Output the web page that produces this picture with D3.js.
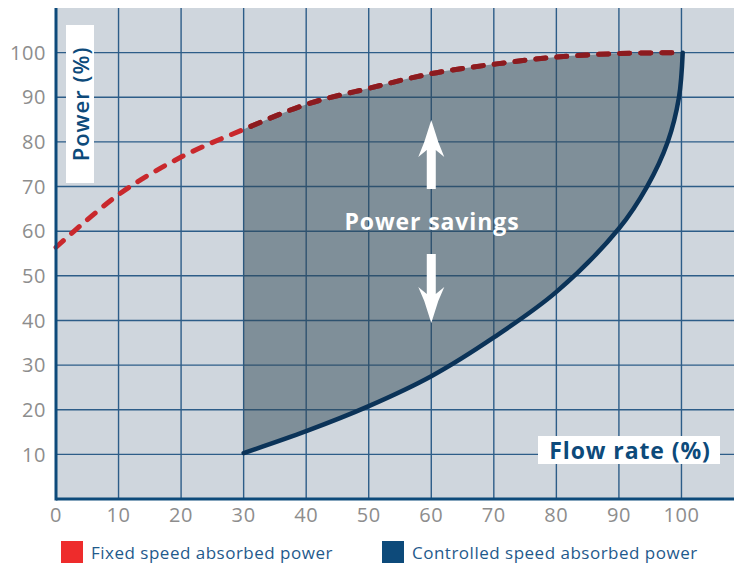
<!DOCTYPE html>
<html><head><meta charset="utf-8">
<script src="https://cdn.jsdelivr.net/npm/d3@7"></script>
<style>
html,body{margin:0;padding:0;background:#fff;}
svg{display:block;}
</style></head>
<body>
<script>
// ---- data ----
const flowTicks = [0,10,20,30,40,50,60,70,80,90,100];
const powerTicks = [10,20,30,40,50,60,70,80,90,100];
const fixedFlow  = [0,10,20,30,40,50,60,70,80,90,100];
const fixedPower = [56.4,68.2,76.6,82.8,88.4,92.0,95.3,97.4,99.0,99.8,100];
const ctrlFlow   = [30,40,50,60,70,80,90,94.5,97.8,99.6,100.2];
const ctrlPower  = [10.3,15.2,20.8,27.5,36.2,46.4,60.6,70,80,90,100];
const legendLabels = ["Fixed speed absorbed power","Controlled speed absorbed power"];
const legendColors = ["#ee2c2c","#0d4a7a"];
const xTitle = "Flow rate (%)";
const yTitle = "Power (%)";
const annotation = "Power savings";

(function(){
const W = 734, H = 564;
const svg = d3.select("body").append("svg").attr("width",W).attr("height",H);

const pL = 56, pR = 734, pT = 8, pB = 499;
const x = d3.scaleLinear().domain([0,108.4]).range([pL,pR]);
const y = d3.scaleLinear().domain([0,110]).range([pB,pT]);

// background
svg.append("rect").attr("x",pL).attr("y",pT).attr("width",pR-pL).attr("height",pB-pT).attr("fill","#cfd6dd");

// grid
const grid = svg.append("g");
grid.selectAll("line.v").data(flowTicks.filter(d=>d>0)).join("line")
  .attr("x1",d=>x(d)).attr("x2",d=>x(d)).attr("y1",pT).attr("y2",pB)
  .attr("stroke","#2d5d88").attr("stroke-width",1.4);
grid.selectAll("line.h").data(powerTicks).join("line")
  .attr("y1",d=>y(d)).attr("y2",d=>y(d)).attr("x1",pL).attr("x2",pR)
  .attr("stroke","#2d5d88").attr("stroke-width",1.4);

const fixedPts = fixedFlow.map((f,i)=>[f,fixedPower[i]]);
const ctrlPts = ctrlFlow.map((f,i)=>[f,ctrlPower[i]]);
const line = d3.line().x(d=>x(d[0])).y(d=>y(d[1])).curve(d3.curveCatmullRom.alpha(0.5));

svg.append("clipPath").attr("id","clipR").append("rect")
  .attr("x",x(30)).attr("y",0).attr("width",W).attr("height",H);

// fixed speed dashed line (full)
svg.append("path").attr("d",line(fixedPts)).attr("fill","none")
  .attr("stroke","#c9282c").attr("stroke-width",5).attr("stroke-linecap","round")
  .attr("stroke-dasharray","10 11");

// shaded savings area
const fixedSeg = fixedPts.filter(d=>d[0]>=30);
const ctrlRev = ctrlPts.slice().reverse();
const areaD = line(fixedSeg) + "L" + line(ctrlRev).slice(1) + "Z";
svg.append("path").attr("d",areaD).attr("fill","#2f4856").attr("fill-opacity",0.5);

// dashed line over the shaded part (darker)
svg.append("path").attr("d",line(fixedPts)).attr("fill","none")
  .attr("stroke","#8c1b1f").attr("stroke-width",5).attr("stroke-linecap","round")
  .attr("stroke-dasharray","10 11")
  .attr("clip-path","url(#clipR)");

// controlled line
svg.append("path").attr("d",line(ctrlPts)).attr("fill","none")
  .attr("stroke","#0b3358").attr("stroke-width",4.5).attr("stroke-linecap","round");

// axes lines
svg.append("line").attr("x1",pL).attr("x2",pL).attr("y1",pT).attr("y2",pB+1.5)
  .attr("stroke","#0d4a7a").attr("stroke-width",3);
svg.append("line").attr("x1",pL).attr("x2",pR).attr("y1",pB).attr("y2",pB)
  .attr("stroke","#0d4a7a").attr("stroke-width",3);

// tick labels
const tickFont = "'Open Sans', sans-serif";
svg.append("g").selectAll("text").data(powerTicks).join("text")
  .attr("x",46).attr("y",d=>y(d)).attr("dy","0.36em").attr("text-anchor","end")
  .attr("font-family",tickFont).attr("font-size",20).attr("letter-spacing",0.6).attr("fill","#8d8d8d").text(d=>d);
svg.append("g").selectAll("text").data(flowTicks).join("text")
  .attr("x",d=>x(d)).attr("y",522).attr("text-anchor","middle")
  .attr("font-family",tickFont).attr("font-size",20).attr("letter-spacing",0.6).attr("fill","#8d8d8d").text(d=>d);

// y title box
svg.append("rect").attr("x",66).attr("y",25).attr("width",28).attr("height",158).attr("fill","#fff");
svg.append("text").attr("transform","translate(88.5,104) rotate(-90)").attr("text-anchor","middle")
  .attr("font-family",tickFont).attr("font-weight",600).attr("font-size",22).attr("letter-spacing",1).attr("fill","#0d4a7a").text(yTitle);

// x title box
svg.append("rect").attr("x",538).attr("y",436).attr("width",182).attr("height",28).attr("fill","#fff");
svg.append("text").attr("x",630).attr("y",459).attr("text-anchor","middle")
  .attr("font-family",tickFont).attr("font-weight",700).attr("font-size",23).attr("letter-spacing",0.9).attr("fill","#0d4a7a").text(xTitle);

// annotation
svg.append("text").attr("x",432).attr("y",230).attr("text-anchor","middle")
  .attr("font-family",tickFont).attr("font-weight",700).attr("font-size",23).attr("letter-spacing",0.9).attr("fill","#fff").text(annotation);
const ax = x(60);
svg.append("path").attr("fill","#fff").attr("d",
  `M${ax},120 L${ax+7},142 L${ax+13},157 L${ax+4.5},150 L${ax+4.5},189 L${ax-4.5},189 L${ax-4.5},150 L${ax-13},157 L${ax-7},142 Z`);
svg.append("path").attr("fill","#fff").attr("d",
  `M${ax},323 L${ax+7},301 L${ax+13},287 L${ax+4.5},294 L${ax+4.5},254 L${ax-4.5},254 L${ax-4.5},294 L${ax-13},287 L${ax-7},301 Z`);

// legend
const lg = svg.append("g");
const lx = [61,382];
legendLabels.forEach((t,i)=>{
  lg.append("rect").attr("x",lx[i]).attr("y",541).attr("width",22).attr("height",22).attr("fill",legendColors[i]);
  lg.append("text").attr("x",lx[i]+30).attr("y",559).attr("font-family",tickFont)
    .attr("font-size",17).attr("letter-spacing",0.5).attr("fill","#1f5a8c").text(t);
});
})();
</script>
</body></html>
